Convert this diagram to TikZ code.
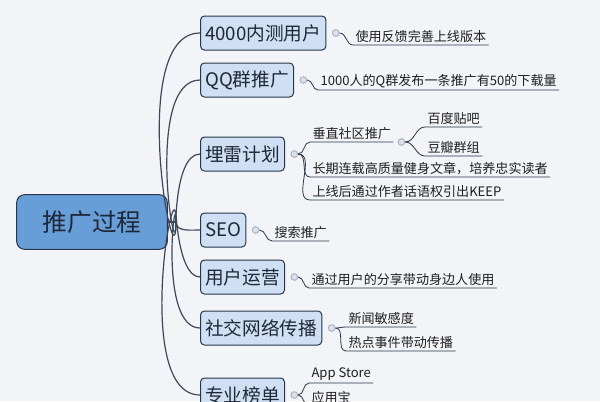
\documentclass[tikz,border=0pt]{standalone}
\usepackage{fontspec}
\setmainfont{Noto Sans CJK SC}
\definecolor{bgc}{RGB}{242,244,247}
\definecolor{edgec}{RGB}{40,55,75}
\definecolor{topicc}{RGB}{207,224,245}
\definecolor{rootc}{RGB}{104,158,216}
\definecolor{textc}{RGB}{30,40,55}
\definecolor{branchc}{RGB}{60,72,90}
\definecolor{knobd}{RGB}{170,180,195}
\definecolor{knobf}{RGB}{220,226,235}
\tikzset{every picture/.style={line width=0.75pt}}
\tikzset{
  topic/.style={draw=edgec, fill=topicc, rounded corners=3pt, minimum height=25.5pt, inner xsep=3.5pt, font=\fontsize{14}{14}\selectfont, text=textc, anchor=west},
  leaf/.style={inner sep=1.5pt, anchor=south west, font=\fontsize{9.8}{10}\selectfont, text=black!88},
  branch/.style={draw=branchc, line width=0.9pt},
  twig/.style={draw=edgec, line width=0.6pt},
  knob/.style={circle, draw=knobd, fill=knobf, inner sep=0pt, minimum size=5pt}
}
\begin{document}
\begin{tikzpicture}[x=0.75pt,y=0.75pt,yscale=-1,xscale=1]
\fill[bgc] (0,0) rectangle (600,401);
\useasboundingbox (0,0) rectangle (600,401);

% root
\node [draw=edgec, fill=rootc, rounded corners=6pt, minimum width=113pt, minimum height=41pt, font=\fontsize{18.5}{18.5}\selectfont, text=textc] (root) at (92,222) {推广过程};
\coordinate (hub) at (176,222);

% topics
\node [topic] (ceshi) at (200,33) {4000内测用户};
\node [topic] (qq) at (200,80) {QQ群推广};
\node [topic] (mailei) at (200,154) {埋雷计划};
\node [topic] (seo) at (200,230) {SEO};
\node [topic] (yunying) at (200,277) {用户运营};
\node [topic] (shejiao) at (200,328) {社交网络传播};
\node [topic] (bangdan) at (200,395) {专业榜单};

\draw [branch] (root.east) -- (hub);
\foreach \t/\o in {ceshi/90,qq/90,mailei/90,seo/90,yunying/-90,shejiao/-90,bangdan/-90}
  \draw [branch] (hub) to[out=\o,in=180] (\t.west);

% knobs
\foreach \t in {ceshi,qq,mailei,seo,yunying,shejiao,bangdan}
  \node [knob] (\t k) at ([xshift=7pt]\t.east) {};

% leaves
\node [leaf] (l1) at (353,45) {使用反馈完善上线版本};
\node [leaf] (l2) at (318,90) {1000人的Q群发布一条推广有50的下载量};
\node [leaf] (l3) at (310,142) {垂直社区推广};
\node [leaf] (l3a) at (425,127) {百度贴吧};
\node [leaf] (l3b) at (425,156) {豆瓣群组};
\node [leaf] (l4) at (310,177) {长期连载高质量健身文章，培养忠实读者};
\node [leaf] (l5) at (310,200) {上线后通过作者话语权引出KEEP};
\node [leaf] (l6) at (272,241) {搜索推广};
\node [leaf] (l7) at (309,288) {通过用户的分享带动身边人使用};
\node [leaf] (l8) at (346,327) {新闻敏感度};
\node [leaf] (l9) at (346,351) {热点事件带动传播};
\node [leaf] (l10) at (309,383) {App Store};
\node [leaf] (l11) at (309,406) {应用宝};
\node [knob] (l3k) at ([xshift=6pt]l3.south east) {};

\foreach \k/\l in {ceshik/l1,qqk/l2,maileik/l3,maileik/l4,maileik/l5,seok/l6,yunyingk/l7,shejiaok/l8,shejiaok/l9,bangdank/l10,bangdank/l11,l3k/l3a,l3k/l3b}
  \draw [twig] (\k) to[out=0,in=180] (\l.south west) -- (\l.south east);

\end{tikzpicture}
\end{document}
